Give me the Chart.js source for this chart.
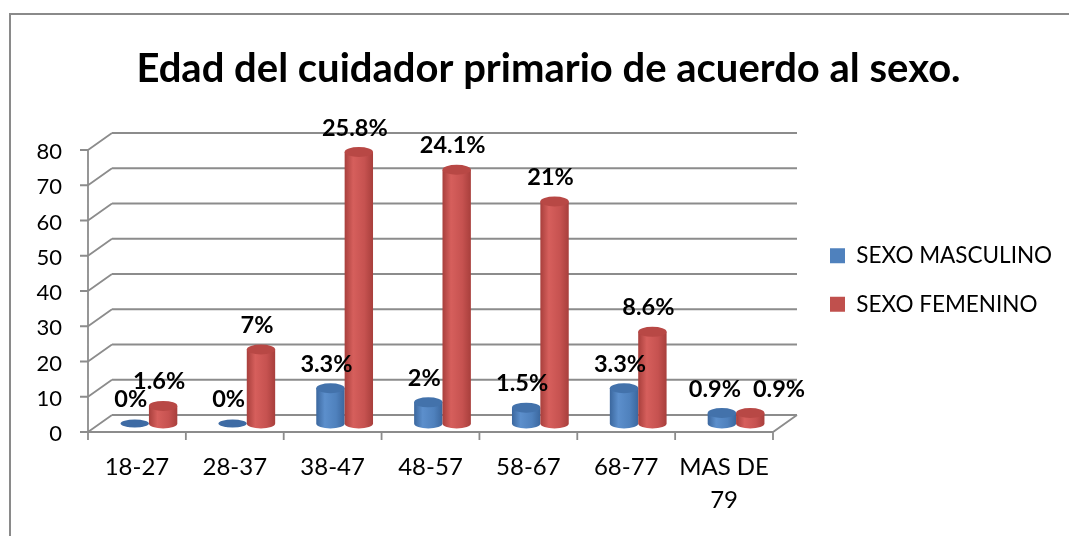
<!DOCTYPE html>
<html>
<head>
<meta charset="utf-8">
<script src="https://cdn.jsdelivr.net/npm/chart.js@4/dist/chart.umd.min.js"></script>
<style>
  html, body { margin: 0; padding: 0; background: #fff; }
  canvas { display: block; }
</style>
</head>
<body>
<canvas id="grafica" width="1069" height="536"></canvas>
<script>
// datos
const categorias = ['18-27', '28-37', '38-47', '48-57', '58-67', '68-77', ['MAS DE', '79']];
const masculino = [0, 0, 10, 6, 4.5, 10, 3];
const femenino = [5, 21, 77, 72, 63, 26, 3];
const pctMasculino = ['0%', '0%', '3.3%', '2%', '1.5%', '3.3%', '0.9%'];
const pctFemenino = ['1.6%', '7%', '25.8%', '24.1%', '21%', '8.6%', '0.9%'];
const marcasY = [0, 10, 20, 30, 40, 50, 60, 70, 80];

// profundidad del efecto 3D (frente / fondo respecto al plano medio)
const DX = 12, DY = 8.5;
const GRIS = '#8c8c8c';
const PAD_IZQ = 28;

const colores = {
  azul: { borde: '#3b679e', luz: '#5c8fcc', cuerpo: '#4f81bd', tapa: '#4372ab', plano: '#3e6ba4' },
  rojo: { borde: '#a83f3c', luz: '#d65f5c', cuerpo: '#c65250', tapa: '#b84845', plano: '#b04441' }
};

function cilindro(ctx, cx, top, base, w, c) {
  const rx = w / 2, ry = 5, l = cx - rx;
  if (base - top < 0.5) {
    ctx.fillStyle = c.plano;
    ctx.beginPath();
    ctx.ellipse(cx, base, rx, 4, 0, 0, Math.PI * 2);
    ctx.fill();
    return;
  }
  const g = ctx.createLinearGradient(l, 0, l + w, 0);
  g.addColorStop(0, c.borde);
  g.addColorStop(0.3, c.luz);
  g.addColorStop(0.7, c.cuerpo);
  g.addColorStop(1, c.borde);
  ctx.fillStyle = g;
  ctx.beginPath();
  ctx.moveTo(l, top);
  ctx.lineTo(l, base);
  ctx.ellipse(cx, base, rx, ry, 0, Math.PI, 0, true);
  ctx.lineTo(l + w, top);
  ctx.closePath();
  ctx.fill();
  ctx.fillStyle = c.tapa;
  ctx.beginPath();
  ctx.ellipse(cx, top, rx, ry, 0, 0, Math.PI * 2);
  ctx.fill();
}

const marco = {
  id: 'marco',
  beforeDraw(chart) {
    const ctx = chart.ctx;
    ctx.save();
    ctx.strokeStyle = '#8a8a8a';
    ctx.lineWidth = 2;
    ctx.strokeRect(10, 14, 1200, 700);
    ctx.restore();
  }
};

const paredes = {
  id: 'paredes',
  beforeDatasetsDraw(chart) {
    const { ctx, chartArea: a, scales: { x, y } } = chart;
    const y0 = y.getPixelForValue(0);
    const yTop = y.getPixelForValue(marcasY[marcasY.length - 1]);
    ctx.save();
    ctx.strokeStyle = GRIS;
    ctx.lineWidth = 1.8;
    ctx.beginPath();
    marcasY.forEach(v => {
      const py = y.getPixelForValue(v);
      ctx.moveTo(a.left + DX, py - DY);
      ctx.lineTo(a.right + DX, py - DY);
      ctx.moveTo(a.left - DX, py + DY);
      ctx.lineTo(a.left + DX, py - DY);
      ctx.moveTo(a.left - DX - 8, py + DY);
      ctx.lineTo(a.left - DX, py + DY);
    });
    // eje vertical frontal
    ctx.moveTo(a.left - DX, yTop + DY);
    ctx.lineTo(a.left - DX, y0 + DY);
    // piso frontal y diagonal derecha
    ctx.lineTo(a.right - DX, y0 + DY);
    ctx.lineTo(a.right + DX, y0 - DY);
    // marcas de categoría
    const catW = (a.right - a.left) / categorias.length;
    for (let i = 0; i <= categorias.length; i++) {
      const px = a.left + i * catW - DX;
      ctx.moveTo(px, y0 + DY);
      ctx.lineTo(px, y0 + DY + 8);
    }
    ctx.stroke();

    // cilindros
    chart.data.datasets.forEach((ds, d) => {
      chart.getDatasetMeta(d).data.forEach(b => {
        cilindro(ctx, b.x, b.y, b.base, b.width, ds.tono);
      });
    });
    ctx.restore();
    return false;
  }
};

const etiquetas = {
  id: 'etiquetas',
  afterDraw(chart) {
    const ctx = chart.ctx;
    ctx.save();
    ctx.font = 'bold 23.5px Lato';
    ctx.fillStyle = '#000';
    ctx.textAlign = 'center';
    ctx.textBaseline = 'middle';
    const m0 = chart.getDatasetMeta(0).data;
    const m1 = chart.getDatasetMeta(1).data;
    const t0s = chart.data.datasets[0].pct, t1s = chart.data.datasets[1].pct;
    m0.forEach((b0, i) => {
      const b1 = m1[i];
      const t0 = t0s[i], t1 = t1s[i];
      let x0 = b0.x - 4, y0 = b0.y - 24;
      let x1 = b1.x - 4, y1 = b1.y - 24;
      const w0 = ctx.measureText(t0).width, w1 = ctx.measureText(t1).width;
      // si quedan a la misma altura y se tocan, se separan
      if (Math.abs(y0 - y1) < 12 && x0 + w0 / 2 + 10 > x1 - w1 / 2) {
        x0 -= 3;
        x1 = x0 + w0 / 2 + 12 + w1 / 2;
      }
      ctx.fillText(t0, x0, y0);
      ctx.fillText(t1, x1, y1);
    });
    ctx.restore();
  }
};

const leyenda = {
  id: 'leyenda',
  beforeInit(chart) {
    const lg = chart.legend;
    const fit = lg.fit;
    lg.fit = function () {
      fit.call(this);
      this.width = 1069 - 785;
    };
  },
  afterLayout(chart) {
    const lg = chart.legend;
    const w = lg.width, h = lg.height;
    lg.left = 804;
    lg.right = lg.left + w;
    lg.top += 12;
    lg.bottom = lg.top + h;
  }
};

new Chart(document.getElementById('grafica'), {
  type: 'bar',
  data: {
    labels: categorias,
    datasets: [
      { label: 'SEXO MASCULINO', data: masculino, pct: pctMasculino, tono: colores.azul, backgroundColor: '#4F81BD' },
      { label: 'SEXO FEMENINO', data: femenino, pct: pctFemenino, tono: colores.rojo, backgroundColor: '#C0504D' }
    ]
  },
  options: {
    responsive: false,
    animation: false,
    devicePixelRatio: 1,
    layout: { padding: { left: PAD_IZQ, right: 0, top: 0, bottom: 0 } },
    datasets: { bar: { categoryPercentage: 0.58, barPercentage: 1 } },
    scales: {
      x: {
        grid: { display: false, drawTicks: false },
        border: { display: false },
        ticks: {
          font: { family: 'Lato', size: 24, lineHeight: 1.38 },
          color: '#000',
          padding: 27,
          labelOffset: -DX,
          maxRotation: 0,
          autoSkip: false
        },
        afterFit(s) { s.height = 536 - 423.5; }
      },
      y: {
        min: 0,
        max: 80,
        grid: { display: false, drawTicks: false },
        border: { display: false },
        ticks: {
          font: { family: 'Lato', size: 22 },
          color: '#000',
          padding: 38,
          labelOffset: DY + 2
        },
        afterBuildTicks(s) { s.ticks = marcasY.map(v => ({ value: v })); },
        afterFit(s) { s.width = 100 - PAD_IZQ; }
      }
    },
    plugins: {
      title: {
        display: true,
        text: 'Edad del cuidador primario de acuerdo al sexo.',
        font: { family: 'Lato', size: 40, weight: 'bold' },
        color: '#000',
        padding: { top: 45, bottom: 48.5 }
      },
      legend: {
        position: 'right',
        labels: {
          font: { family: 'Lato', size: 22.5 },
          color: '#000',
          boxWidth: 15,
          boxHeight: 15,
          padding: 26
        }
      },
      tooltip: { enabled: false }
    }
  },
  plugins: [marco, paredes, etiquetas, leyenda]
});
</script>
</body>
</html>
